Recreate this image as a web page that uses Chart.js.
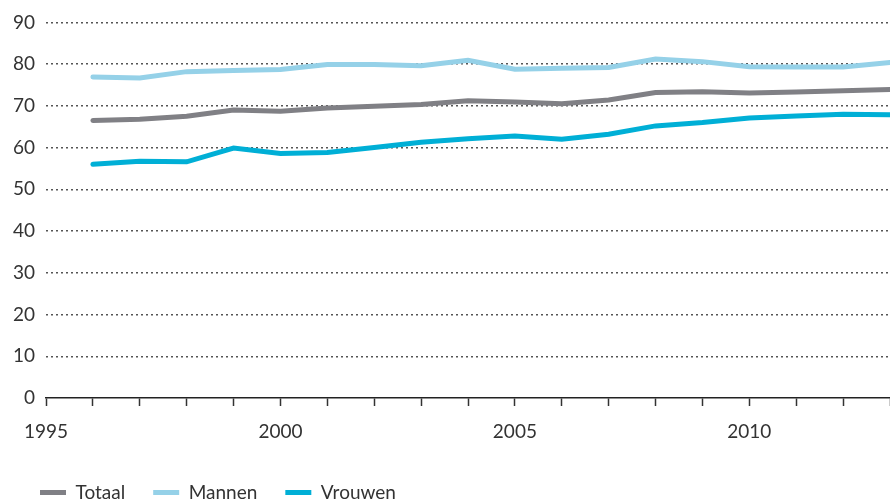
<!DOCTYPE html>
<html>
<head>
<meta charset="utf-8">
<script src="https://cdn.jsdelivr.net/npm/chart.js@4"></script>
<style>
  html, body { margin: 0; padding: 0; background: #fff; }
  #wrap { width: 890px; height: 504px; position: relative; }
</style>
</head>
<body>
<div id="wrap"><canvas id="myChart"></canvas></div>
<script>
const years = [1996, 1997, 1998, 1999, 2000, 2001, 2002, 2003, 2004, 2005,
  2006, 2007, 2008, 2009, 2010, 2011, 2012, 2013];
const totaal = [66.5, 66.8, 67.5, 69.0, 68.7, 69.5, 69.9, 70.3, 71.2, 70.9,
  70.5, 71.4, 73.2, 73.4, 73.1, 73.3, 73.6, 73.9];
const mannen = [76.9, 76.7, 78.2, 78.5, 78.7, 79.9, 79.9, 79.6, 80.9, 78.8,
  79.0, 79.2, 81.2, 80.6, 79.4, 79.3, 79.3, 80.4];
const vrouwen = [56.0, 56.7, 56.6, 59.9, 58.6, 58.8, 60.0, 61.3, 62.1, 62.8,
  62.0, 63.2, 65.2, 66.0, 67.1, 67.6, 68.0, 67.9];
const yTicks = [0, 10, 20, 30, 40, 50, 60, 70, 80, 90];
const xLabels = [1995, 2000, 2005, 2010];

function points(values) {
  return values.map((v, i) => ({ x: years[i], y: v }));
}

function lineSet(label, values, color) {
  return {
    label: label,
    data: points(values),
    borderColor: color,
    backgroundColor: color,
    borderWidth: 5,
    borderCapStyle: 'round',
    pointRadius: 0,
    tension: 0
  };
}

// legend sits a bit lower than Chart.js puts it
const legendLower = {
  id: 'legendLower',
  beforeInit(chart) {
    const fit = chart.legend.fit;
    chart.legend.fit = function () {
      fit.call(this);
      this.height -= 8;
    };
  }
};

const ctx = document.getElementById('myChart');
Chart.defaults.font.family = 'Lato, sans-serif';
Chart.defaults.color = '#333';

new Chart(ctx, {
  type: 'line',
  data: {
    datasets: [
      lineSet('Totaal', totaal, '#808085'),
      lineSet('Mannen', mannen, '#95d1e8'),
      lineSet('Vrouwen', vrouwen, '#00afd6')
    ]
  },
  plugins: [legendLower],
  options: {
    responsive: true,
    maintainAspectRatio: false,
    animation: false,
    layout: {
      padding: { top: 19, left: 12, right: 0, bottom: 0 }
    },
    plugins: {
      tooltip: { enabled: false },
      legend: {
        position: 'bottom',
        align: 'start',
        labels: {
          usePointStyle: true,
          pointStyle: 'line',
          pointStyleWidth: 26,
          padding: 28,
          color: '#333',
          font: { size: 19 }
        }
      }
    },
    scales: {
      x: {
        type: 'linear',
        min: 1995,
        max: 2013,
        afterFit: (scale) => {
          scale.paddingRight = 0;
          scale.height = 57;
        },
        ticks: {
          stepSize: 1,
          autoSkip: false,
          maxRotation: 0,
          padding: 14,
          font: { size: 19 },
          color: '#333',
          callback: (v) => xLabels.includes(v) ? String(v) : ''
        },
        grid: {
          drawOnChartArea: false,
          drawTicks: true,
          tickLength: 8,
          tickWidth: 1.5,
          tickColor: '#333'
        },
        border: { display: true, color: '#222', width: 1.5 }
      },
      y: {
        min: 0,
        max: 90,
        afterFit: (scale) => { scale.width = 34; },
        afterBuildTicks: (scale) => {
          scale.ticks = yTicks.map(v => ({ value: v }));
        },
        ticks: {
          padding: 11,
          font: { size: 19 },
          color: '#333'
        },
        grid: {
          drawTicks: false,
          lineWidth: 1.5,
          color: (c) => c.tick && c.tick.value === 0 ? 'rgba(0,0,0,0)' : '#555'
        },
        border: { display: false, dash: [2, 3] }
      }
    }
  }
});
</script>
</body>
</html>
